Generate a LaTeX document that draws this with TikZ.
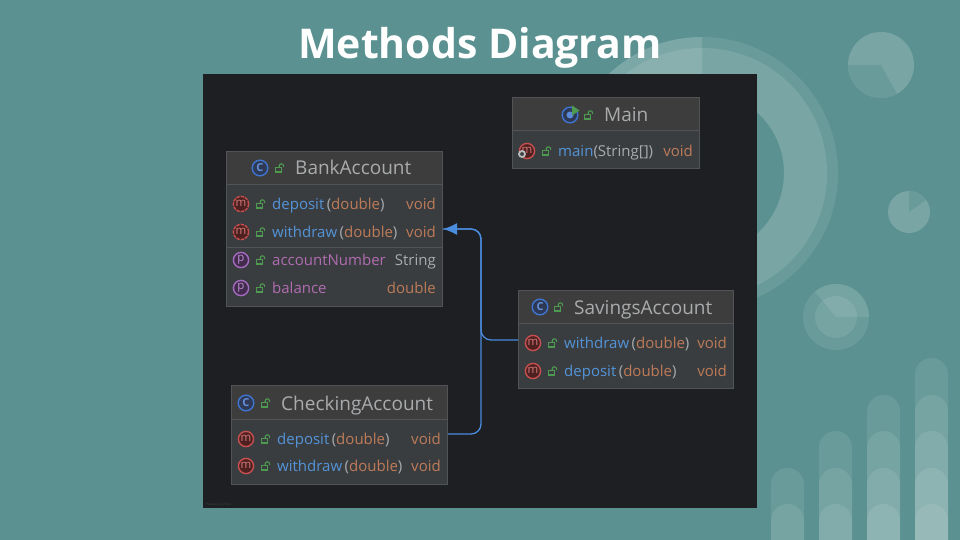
\documentclass[tikz,border=0pt]{standalone}
\usepackage{fontspec}
\setmainfont{Open Sans}
\usetikzlibrary{arrows.meta}
\definecolor{bg}{HTML}{5B9291}
\definecolor{panel}{HTML}{1E1F22}
\definecolor{headc}{HTML}{3D3D3D}
\definecolor{bodyc}{HTML}{3A3D40}
\definecolor{edge}{HTML}{515355}
\definecolor{gtxt}{HTML}{A9ABAD}
\definecolor{btxt}{HTML}{5394D8}
\definecolor{otxt}{HTML}{BE7B58}
\definecolor{ptxt}{HTML}{B06CB0}
\definecolor{grn}{HTML}{4E9A50}
\definecolor{redc}{HTML}{C64F4F}
\definecolor{bluc}{HTML}{3F74D0}
\definecolor{bluf}{HTML}{2E3A55}
\definecolor{purc}{HTML}{A56BC0}
\definecolor{conn}{HTML}{4A8CDE}
\tikzset{
  x=1pt,y=1pt,
  lay/.style={fill=white,fill opacity=.09},
  lay2/.style={fill=white,fill opacity=.19},
  headbox/.style={draw=edge,line width=1pt,fill=headc,anchor=north west,inner sep=0pt,outer sep=0pt},
  bodybox/.style={draw=edge,line width=1pt,fill=bodyc,anchor=north west,inner sep=0pt,outer sep=0pt},
  rowbox/.style={inner sep=0pt,outer sep=0pt,minimum height=28pt},
  mtxt/.style={font=\fontsize{15}{17}\selectfont,inner sep=0pt,text=gtxt},
  ttxt/.style={font=\fontsize{19}{21}\selectfont,inner sep=0pt,text=gtxt,anchor=base west},
  icn/.style={line width=1.4pt},
  abst/.style={dash pattern=on 3.4pt off 1pt},
  link/.style={draw=conn,line width=1.3pt,rounded corners=10pt},
}
% lock icon
\newcommand\lockicon[2]{%
  \draw[grn,line width=1.1pt] (#1-4.5,#2-.5) rectangle (#1+1.5,#2+4);
  \draw[grn,line width=1.1pt] (#1-.8,#2-.5) -- (#1-.8,#2-2) arc[start angle=180,end angle=360,radius=2.2] -- (#1+3.6,#2-1);
}
% class: name x1 y1 x2 yh y2
\newcommand\umlclass[6]{%
  \pgfmathsetmacro\wb{#4-#2-1}\pgfmathsetmacro\hh{#5-#3-.5}\pgfmathsetmacro\hb{#6-#5-.5}%
  \node[headbox,minimum width=\wb pt,minimum height=\hh pt] (#1-head) at (#2+.5,#3+.5) {};
  \node[bodybox,minimum width=\wb pt,minimum height=\hb pt] (#1-body) at (#2+.5,#5) {};
}
% title of class: name ix lx tx y letter text
\newcommand\umltitle[7]{%
  \draw[icn,draw=bluc,fill=bluf] (#2,#5) circle[radius=7.8];
  \node[font=\bfseries\fontsize{11}{11}\selectfont,inner sep=0pt,text=bluc!80!white] (#1-c) at (#2,#5) {#6};
  \lockicon{#3}{#5}
  \node[ttxt] (#1-title) at (#4,#5+7) {#7};
}
% row: name x1 x2 y iconstroke letter dashopt text right
\newcommand\umlrow[9]{%
  \pgfmathsetmacro\wb{#3-#2}\pgfmathsetmacro\cx{(#2+#3)/2}%
  \node[rowbox,minimum width=\wb pt] (#1) at (\cx,#4) {};
  \draw[icn,draw=#5,fill=#5!40!black,#7] (#2+15,#4) circle[radius=7.6];
  \node[font=\fontsize{11.5}{11.5}\selectfont,inner sep=0pt,text=#5!75!white] (#1-i) at (#2+15,#4-.5) {#6};
  \lockicon{#2+35}{#4}
  \node[mtxt,anchor=base west] (#1-t) at (#2+46,#4+5.5) {#8};
  \node[mtxt,anchor=base east] (#1-r) at (#3-7,#4+5.5) {#9};
}
\newcommand\mth[2]{\textcolor{btxt}{#1}\,(\textcolor{otxt}{#2})}
\begin{document}
\begin{tikzpicture}[yscale=-1]
\useasboundingbox (0,0) rectangle (960,540);
\fill[bg] (0,0) rectangle (960,540);
% large ring
\fill[lay,even odd rule] (702,173) circle[radius=136] (702,173) circle[radius=125];
\fill[lay2,even odd rule] (702,173) circle[radius=125] (702,173) circle[radius=82];
\fill[white,fill opacity=.12] (702,173) -- ++(180:136) arc[start angle=180,end angle=270,radius=136] -- cycle;
% small circles
\fill[lay2] (881,65) circle[radius=33];
\fill[bg,fill opacity=.5] (881,65) -- ++(61:33) arc[start angle=61,end angle=180,radius=33] -- cycle;
\fill[lay2] (909,212) circle[radius=21];
\fill[bg,fill opacity=.5] (909,212) -- ++(-90:21) arc[start angle=-90,end angle=-35,radius=21] -- cycle;
\fill[lay] (836,317) circle[radius=33];
\fill[lay] (836,317) circle[radius=21];
\fill[lay] (836,317) -- ++(-130:33) arc[start angle=-130,end angle=0,radius=33] -- cycle;
% bars
\foreach \bx/\tops in {771/{468,504},819/{431,468,504},867/{395,431,468,504},915/{358,395,431,468,504}}{
  \foreach \tp in \tops {
    \fill[lay] (\bx,540) -- (\bx,\tp+16.5) arc[start angle=180,end angle=360,radius=16.5] -- (\bx+33,540) -- cycle;
  }
}
% title
\node[font=\bfseries\fontsize{41}{45}\selectfont,text=white,inner sep=0pt,anchor=base] (maintitle) at (480,59) {Methods Diagram};
% panel
\fill[panel] (203,74) rectangle (757,508);
\node[font=\fontsize{3}{3}\selectfont,text=edge!70!panel,inner sep=0pt,anchor=base west] (powered) at (206,505) {Powered by yFiles};
% BankAccount
\umlclass{bank}{226}{151}{443}{184}{307}
\umltitle{bank}{260}{280}{295}{168}{C}{BankAccount}
\umlrow{bank-d}{226}{443}{204}{redc}{m}{abst}{\mth{deposit}{double}}{\textcolor{otxt}{void}}
\umlrow{bank-w}{226}{443}{232}{redc}{m}{abst}{\mth{withdraw}{double}}{\textcolor{otxt}{void}}
\umlrow{bank-a}{226}{443}{260}{purc}{p}{}{\textcolor{ptxt}{accountNumber}}{String}
\umlrow{bank-b}{226}{443}{288}{purc}{p}{}{\textcolor{ptxt}{balance}}{\textcolor{otxt}{double}}
\draw[edge,line width=1pt] ([yshift=1pt]bank-a.north west) -- ([yshift=1pt]bank-a.north east);
% Main
\umlclass{main}{512}{97}{700}{131}{169}
\umltitle{main}{570}{589}{604}{115}{}{Main}
\fill[bluc!85!white] (570,115) circle[radius=3.5];
\fill[grn] (572,105.5) -- (579.5,110.5) -- (572,115.5) -- cycle;
\umlrow{main-m}{512}{700}{151}{redc}{m}{}{\textcolor{btxt}{main}(String[])}{\textcolor{otxt}{void}}
\draw[gtxt!80!white,line width=1.8pt,fill=bodyc] (522,154) circle[radius=3];
% SavingsAccount
\umlclass{sav}{518}{290}{734}{323}{389}
\umltitle{sav}{540}{559}{574}{307}{C}{SavingsAccount}
\umlrow{sav-w}{518}{734}{343}{redc}{m}{}{\mth{withdraw}{double}}{\textcolor{otxt}{void}}
\umlrow{sav-d}{518}{734}{371}{redc}{m}{}{\mth{deposit}{double}}{\textcolor{otxt}{void}}
% CheckingAccount
\umlclass{chk}{231}{385}{448}{419}{485}
\umltitle{chk}{246}{266}{281}{403}{C}{CheckingAccount}
\umlrow{chk-d}{231}{448}{439}{redc}{m}{}{\mth{deposit}{double}}{\textcolor{otxt}{void}}
\umlrow{chk-w}{231}{448}{466}{redc}{m}{}{\mth{withdraw}{double}}{\textcolor{otxt}{void}}
% connectors (yshift is flipped by yscale=-1)
\coordinate (trunk) at (481,280);
\draw[link] ([yshift=-5pt]chk-d.east) -| (trunk) |- ([yshift=-3pt]bank-w.east);
\draw[link,-{Latex[length=14pt,width=12pt]}] ([yshift=-3pt]sav-w.west) -| (trunk) |- ([yshift=-3pt]bank-w.east);
\end{tikzpicture}
\end{document}
